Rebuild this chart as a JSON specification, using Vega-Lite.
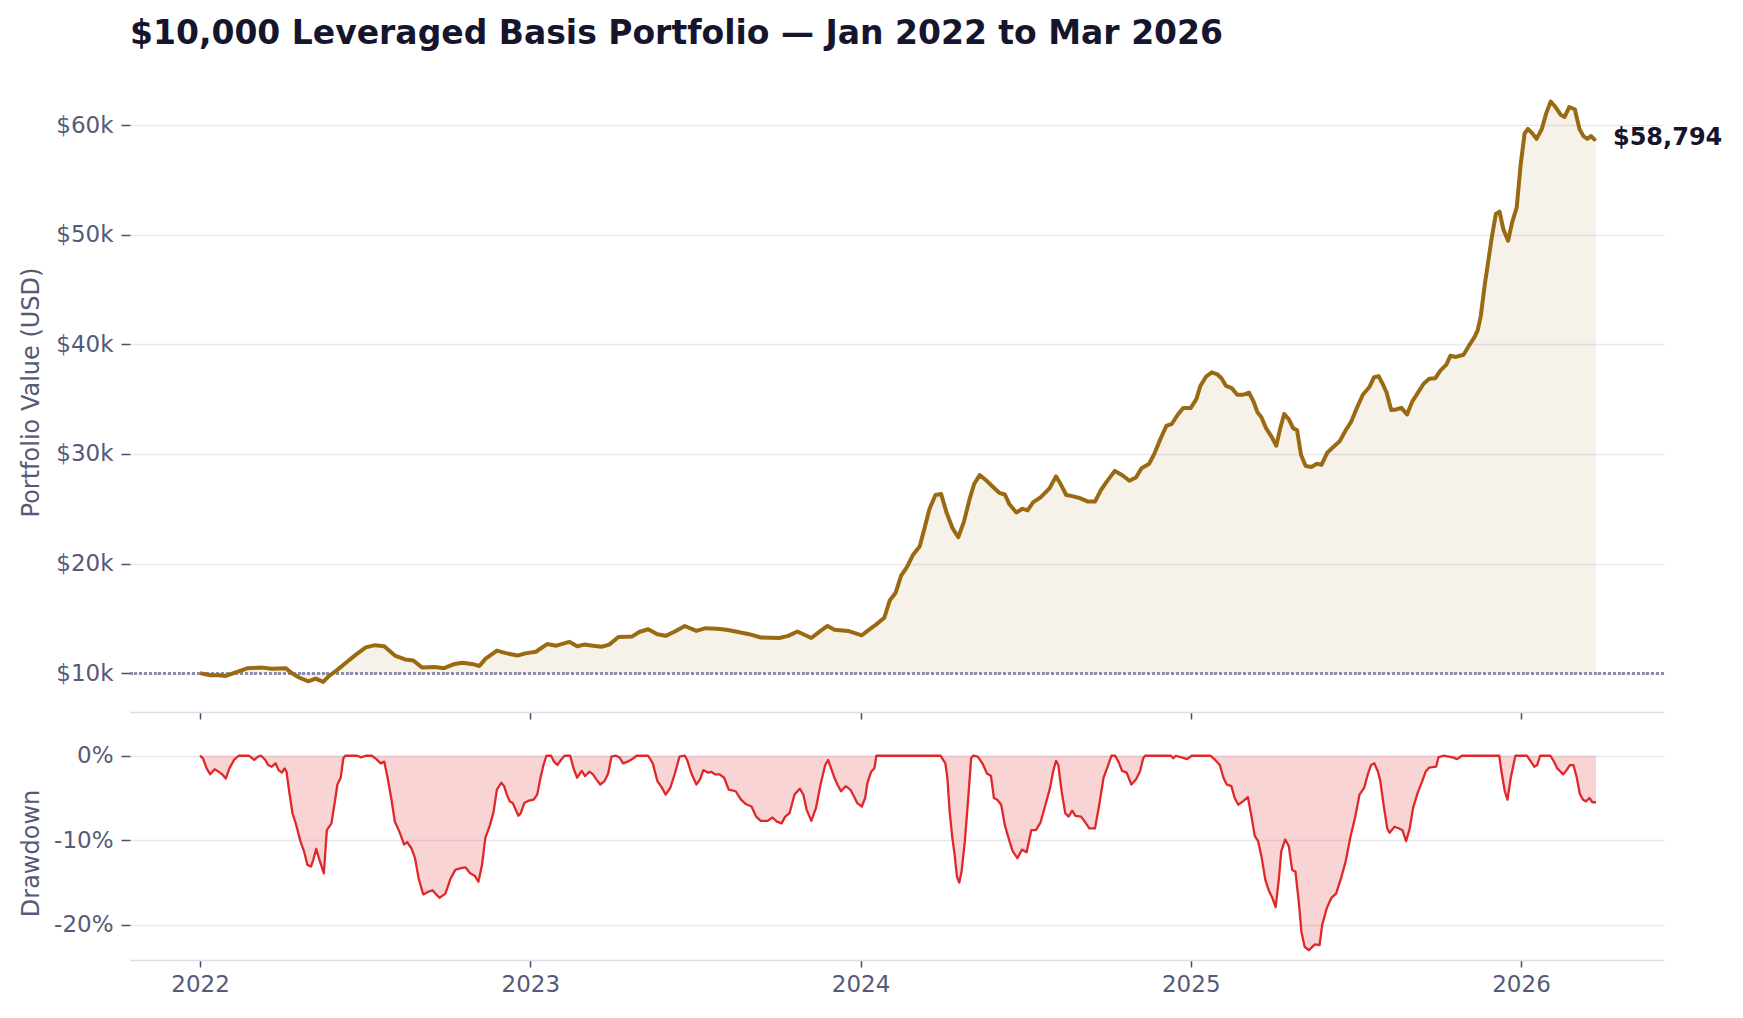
{
  "$schema": "https://vega.github.io/schema/vega-lite/v6.json",
  "description": "$10,000 leveraged basis portfolio value and drawdown",
  "background": "white",
  "padding": {"left": 19, "top": 18, "right": 5, "bottom": 5},
  "title": {
    "text": "$10,000 Leveraged Basis Portfolio — Jan 2022 to Mar 2026",
    "anchor": "start",
    "frame": "group",
    "font": "DejaVu Sans",
    "fontSize": 33,
    "fontWeight": "bold",
    "color": "#15152e",
    "offset": 21
  },
  "datasets": {
    "pv": [
      {"year": 2022.000, "value": 10000}, {"year": 2022.020, "value": 9870}, {"year": 2022.031, "value": 9800},
      {"year": 2022.057, "value": 9810}, {"year": 2022.078, "value": 9740}, {"year": 2022.106, "value": 10050},
      {"year": 2022.145, "value": 10450}, {"year": 2022.190, "value": 10500}, {"year": 2022.217, "value": 10400},
      {"year": 2022.259, "value": 10450}, {"year": 2022.280, "value": 9950}, {"year": 2022.300, "value": 9600},
      {"year": 2022.328, "value": 9250}, {"year": 2022.350, "value": 9500}, {"year": 2022.373, "value": 9200},
      {"year": 2022.391, "value": 9750}, {"year": 2022.412, "value": 10200}, {"year": 2022.440, "value": 10900},
      {"year": 2022.475, "value": 11750}, {"year": 2022.502, "value": 12350}, {"year": 2022.530, "value": 12550},
      {"year": 2022.558, "value": 12450}, {"year": 2022.590, "value": 11600}, {"year": 2022.621, "value": 11250},
      {"year": 2022.646, "value": 11150}, {"year": 2022.673, "value": 10500}, {"year": 2022.711, "value": 10550},
      {"year": 2022.739, "value": 10450}, {"year": 2022.767, "value": 10800}, {"year": 2022.794, "value": 10950},
      {"year": 2022.829, "value": 10800}, {"year": 2022.846, "value": 10650}, {"year": 2022.864, "value": 11300},
      {"year": 2022.899, "value": 12050}, {"year": 2022.929, "value": 11800}, {"year": 2022.961, "value": 11600},
      {"year": 2022.985, "value": 11800}, {"year": 2023.017, "value": 11950}, {"year": 2023.051, "value": 12650},
      {"year": 2023.079, "value": 12500}, {"year": 2023.118, "value": 12850}, {"year": 2023.142, "value": 12450},
      {"year": 2023.163, "value": 12600}, {"year": 2023.190, "value": 12500}, {"year": 2023.216, "value": 12400},
      {"year": 2023.239, "value": 12600}, {"year": 2023.267, "value": 13300}, {"year": 2023.309, "value": 13350},
      {"year": 2023.330, "value": 13750}, {"year": 2023.357, "value": 14000}, {"year": 2023.385, "value": 13550},
      {"year": 2023.410, "value": 13400}, {"year": 2023.438, "value": 13800}, {"year": 2023.468, "value": 14300},
      {"year": 2023.503, "value": 13850}, {"year": 2023.531, "value": 14100}, {"year": 2023.566, "value": 14050},
      {"year": 2023.594, "value": 13950}, {"year": 2023.622, "value": 13800}, {"year": 2023.663, "value": 13550},
      {"year": 2023.698, "value": 13250}, {"year": 2023.754, "value": 13200}, {"year": 2023.781, "value": 13400},
      {"year": 2023.809, "value": 13800}, {"year": 2023.851, "value": 13200}, {"year": 2023.879, "value": 13850},
      {"year": 2023.900, "value": 14300}, {"year": 2023.921, "value": 13950}, {"year": 2023.962, "value": 13850},
      {"year": 2024.004, "value": 13450}, {"year": 2024.025, "value": 13950}, {"year": 2024.046, "value": 14400},
      {"year": 2024.072, "value": 15050}, {"year": 2024.089, "value": 16650}, {"year": 2024.106, "value": 17300},
      {"year": 2024.123, "value": 18900}, {"year": 2024.141, "value": 19700}, {"year": 2024.158, "value": 20750},
      {"year": 2024.179, "value": 21550}, {"year": 2024.192, "value": 23000}, {"year": 2024.209, "value": 25000},
      {"year": 2024.227, "value": 26250}, {"year": 2024.244, "value": 26350}, {"year": 2024.261, "value": 24600},
      {"year": 2024.279, "value": 23200}, {"year": 2024.296, "value": 22400}, {"year": 2024.313, "value": 23800},
      {"year": 2024.330, "value": 25850}, {"year": 2024.344, "value": 27250}, {"year": 2024.361, "value": 28070},
      {"year": 2024.382, "value": 27550}, {"year": 2024.399, "value": 27050}, {"year": 2024.420, "value": 26450},
      {"year": 2024.437, "value": 26300}, {"year": 2024.451, "value": 25400}, {"year": 2024.472, "value": 24650},
      {"year": 2024.490, "value": 25000}, {"year": 2024.506, "value": 24850}, {"year": 2024.523, "value": 25600},
      {"year": 2024.546, "value": 26050}, {"year": 2024.572, "value": 26850}, {"year": 2024.592, "value": 27950},
      {"year": 2024.606, "value": 27250}, {"year": 2024.623, "value": 26250}, {"year": 2024.641, "value": 26150},
      {"year": 2024.666, "value": 25950}, {"year": 2024.689, "value": 25650}, {"year": 2024.710, "value": 25650},
      {"year": 2024.727, "value": 26650}, {"year": 2024.745, "value": 27450}, {"year": 2024.770, "value": 28450},
      {"year": 2024.793, "value": 28050}, {"year": 2024.814, "value": 27550}, {"year": 2024.834, "value": 27850},
      {"year": 2024.851, "value": 28700}, {"year": 2024.874, "value": 29100}, {"year": 2024.891, "value": 30100},
      {"year": 2024.908, "value": 31350}, {"year": 2024.926, "value": 32550}, {"year": 2024.943, "value": 32750},
      {"year": 2024.960, "value": 33550}, {"year": 2024.977, "value": 34200}, {"year": 2025.000, "value": 34200},
      {"year": 2025.017, "value": 35000}, {"year": 2025.029, "value": 36200}, {"year": 2025.046, "value": 37050},
      {"year": 2025.064, "value": 37440}, {"year": 2025.081, "value": 37250}, {"year": 2025.093, "value": 36900},
      {"year": 2025.107, "value": 36200}, {"year": 2025.124, "value": 36000}, {"year": 2025.141, "value": 35400},
      {"year": 2025.159, "value": 35400}, {"year": 2025.176, "value": 35600}, {"year": 2025.190, "value": 34800},
      {"year": 2025.202, "value": 33800}, {"year": 2025.214, "value": 33350}, {"year": 2025.228, "value": 32350},
      {"year": 2025.245, "value": 31550}, {"year": 2025.259, "value": 30750}, {"year": 2025.271, "value": 32350},
      {"year": 2025.283, "value": 33650}, {"year": 2025.297, "value": 33150}, {"year": 2025.310, "value": 32350},
      {"year": 2025.322, "value": 32150}, {"year": 2025.334, "value": 29900}, {"year": 2025.348, "value": 28900},
      {"year": 2025.365, "value": 28800}, {"year": 2025.382, "value": 29100}, {"year": 2025.396, "value": 29000},
      {"year": 2025.413, "value": 30100}, {"year": 2025.434, "value": 30700}, {"year": 2025.451, "value": 31150},
      {"year": 2025.469, "value": 32150}, {"year": 2025.486, "value": 32950}, {"year": 2025.503, "value": 34200},
      {"year": 2025.521, "value": 35400}, {"year": 2025.541, "value": 36100}, {"year": 2025.555, "value": 37000},
      {"year": 2025.569, "value": 37100}, {"year": 2025.581, "value": 36400}, {"year": 2025.593, "value": 35600},
      {"year": 2025.607, "value": 34000}, {"year": 2025.621, "value": 34050}, {"year": 2025.638, "value": 34200},
      {"year": 2025.655, "value": 33600}, {"year": 2025.671, "value": 34800}, {"year": 2025.688, "value": 35600},
      {"year": 2025.705, "value": 36400}, {"year": 2025.722, "value": 36850}, {"year": 2025.740, "value": 36900},
      {"year": 2025.757, "value": 37650}, {"year": 2025.774, "value": 38150}, {"year": 2025.786, "value": 38950},
      {"year": 2025.803, "value": 38850}, {"year": 2025.826, "value": 39050}, {"year": 2025.843, "value": 39900},
      {"year": 2025.860, "value": 40700}, {"year": 2025.869, "value": 41300}, {"year": 2025.878, "value": 42550},
      {"year": 2025.890, "value": 45400}, {"year": 2025.900, "value": 47400}, {"year": 2025.912, "value": 49850},
      {"year": 2025.924, "value": 51900}, {"year": 2025.935, "value": 52100}, {"year": 2025.947, "value": 50450},
      {"year": 2025.961, "value": 49450}, {"year": 2025.973, "value": 51100}, {"year": 2025.987, "value": 52500},
      {"year": 2025.999, "value": 56400}, {"year": 2026.011, "value": 59250}, {"year": 2026.021, "value": 59650},
      {"year": 2026.033, "value": 59300}, {"year": 2026.047, "value": 58750}, {"year": 2026.063, "value": 59650},
      {"year": 2026.076, "value": 61050}, {"year": 2026.090, "value": 62150}, {"year": 2026.102, "value": 61750},
      {"year": 2026.120, "value": 60950}, {"year": 2026.132, "value": 60750}, {"year": 2026.146, "value": 61650},
      {"year": 2026.163, "value": 61450}, {"year": 2026.177, "value": 59650}, {"year": 2026.189, "value": 59000},
      {"year": 2026.201, "value": 58750}, {"year": 2026.212, "value": 59000}, {"year": 2026.222, "value": 58700},
      {"year": 2026.227, "value": 58794}
    ],
    "dd": [
      {"year": 2022.000, "dd": 0}, {"year": 2022.009, "dd": -0.003}, {"year": 2022.020, "dd": -0.015},
      {"year": 2022.031, "dd": -0.022}, {"year": 2022.044, "dd": -0.016}, {"year": 2022.057, "dd": -0.019},
      {"year": 2022.067, "dd": -0.022}, {"year": 2022.078, "dd": -0.027}, {"year": 2022.089, "dd": -0.015},
      {"year": 2022.103, "dd": -0.005}, {"year": 2022.117, "dd": 0}, {"year": 2022.148, "dd": 0},
      {"year": 2022.164, "dd": -0.005}, {"year": 2022.176, "dd": -0.001}, {"year": 2022.185, "dd": 0},
      {"year": 2022.198, "dd": -0.005}, {"year": 2022.206, "dd": -0.011}, {"year": 2022.217, "dd": -0.013},
      {"year": 2022.229, "dd": -0.009}, {"year": 2022.238, "dd": -0.017}, {"year": 2022.248, "dd": -0.020},
      {"year": 2022.256, "dd": -0.015}, {"year": 2022.262, "dd": -0.019}, {"year": 2022.270, "dd": -0.042},
      {"year": 2022.280, "dd": -0.068}, {"year": 2022.290, "dd": -0.080}, {"year": 2022.304, "dd": -0.101},
      {"year": 2022.315, "dd": -0.113}, {"year": 2022.325, "dd": -0.129}, {"year": 2022.336, "dd": -0.131},
      {"year": 2022.343, "dd": -0.123}, {"year": 2022.352, "dd": -0.110}, {"year": 2022.360, "dd": -0.121},
      {"year": 2022.375, "dd": -0.139}, {"year": 2022.384, "dd": -0.088}, {"year": 2022.398, "dd": -0.080},
      {"year": 2022.410, "dd": -0.050}, {"year": 2022.416, "dd": -0.034}, {"year": 2022.426, "dd": -0.026},
      {"year": 2022.434, "dd": -0.003}, {"year": 2022.440, "dd": 0}, {"year": 2022.475, "dd": 0},
      {"year": 2022.488, "dd": -0.002}, {"year": 2022.502, "dd": 0}, {"year": 2022.520, "dd": 0},
      {"year": 2022.534, "dd": -0.004}, {"year": 2022.547, "dd": -0.009}, {"year": 2022.558, "dd": -0.007},
      {"year": 2022.568, "dd": -0.026}, {"year": 2022.579, "dd": -0.050}, {"year": 2022.590, "dd": -0.078},
      {"year": 2022.604, "dd": -0.090}, {"year": 2022.618, "dd": -0.105}, {"year": 2022.627, "dd": -0.102},
      {"year": 2022.641, "dd": -0.110}, {"year": 2022.651, "dd": -0.121}, {"year": 2022.662, "dd": -0.145},
      {"year": 2022.676, "dd": -0.164}, {"year": 2022.690, "dd": -0.161}, {"year": 2022.704, "dd": -0.159},
      {"year": 2022.713, "dd": -0.163}, {"year": 2022.725, "dd": -0.168}, {"year": 2022.743, "dd": -0.163},
      {"year": 2022.759, "dd": -0.145}, {"year": 2022.773, "dd": -0.135}, {"year": 2022.790, "dd": -0.133},
      {"year": 2022.804, "dd": -0.132}, {"year": 2022.818, "dd": -0.139}, {"year": 2022.832, "dd": -0.142},
      {"year": 2022.843, "dd": -0.149}, {"year": 2022.854, "dd": -0.129}, {"year": 2022.864, "dd": -0.097},
      {"year": 2022.878, "dd": -0.082}, {"year": 2022.889, "dd": -0.066}, {"year": 2022.899, "dd": -0.040},
      {"year": 2022.912, "dd": -0.032}, {"year": 2022.921, "dd": -0.036}, {"year": 2022.929, "dd": -0.046},
      {"year": 2022.938, "dd": -0.054}, {"year": 2022.947, "dd": -0.056}, {"year": 2022.954, "dd": -0.062},
      {"year": 2022.964, "dd": -0.071}, {"year": 2022.971, "dd": -0.068}, {"year": 2022.982, "dd": -0.056},
      {"year": 2022.996, "dd": -0.053}, {"year": 2023.010, "dd": -0.052}, {"year": 2023.021, "dd": -0.046},
      {"year": 2023.031, "dd": -0.026}, {"year": 2023.040, "dd": -0.011}, {"year": 2023.049, "dd": 0},
      {"year": 2023.063, "dd": 0}, {"year": 2023.072, "dd": -0.007}, {"year": 2023.082, "dd": -0.011},
      {"year": 2023.093, "dd": -0.005}, {"year": 2023.104, "dd": 0}, {"year": 2023.121, "dd": 0},
      {"year": 2023.131, "dd": -0.015}, {"year": 2023.142, "dd": -0.026}, {"year": 2023.156, "dd": -0.018},
      {"year": 2023.166, "dd": -0.024}, {"year": 2023.179, "dd": -0.019}, {"year": 2023.190, "dd": -0.022},
      {"year": 2023.200, "dd": -0.028}, {"year": 2023.212, "dd": -0.034}, {"year": 2023.225, "dd": -0.030},
      {"year": 2023.236, "dd": -0.021}, {"year": 2023.246, "dd": -0.001}, {"year": 2023.260, "dd": 0},
      {"year": 2023.270, "dd": -0.002}, {"year": 2023.281, "dd": -0.009}, {"year": 2023.295, "dd": -0.007},
      {"year": 2023.309, "dd": -0.004}, {"year": 2023.322, "dd": 0}, {"year": 2023.357, "dd": 0},
      {"year": 2023.371, "dd": -0.009}, {"year": 2023.385, "dd": -0.030}, {"year": 2023.399, "dd": -0.038},
      {"year": 2023.410, "dd": -0.046}, {"year": 2023.424, "dd": -0.038}, {"year": 2023.438, "dd": -0.021},
      {"year": 2023.452, "dd": -0.001}, {"year": 2023.468, "dd": 0}, {"year": 2023.475, "dd": -0.005},
      {"year": 2023.489, "dd": -0.022}, {"year": 2023.503, "dd": -0.034}, {"year": 2023.514, "dd": -0.028},
      {"year": 2023.524, "dd": -0.017}, {"year": 2023.538, "dd": -0.020}, {"year": 2023.549, "dd": -0.019},
      {"year": 2023.559, "dd": -0.022}, {"year": 2023.573, "dd": -0.022}, {"year": 2023.587, "dd": -0.026},
      {"year": 2023.601, "dd": -0.040}, {"year": 2023.622, "dd": -0.042}, {"year": 2023.638, "dd": -0.052},
      {"year": 2023.652, "dd": -0.057}, {"year": 2023.670, "dd": -0.060}, {"year": 2023.684, "dd": -0.072},
      {"year": 2023.698, "dd": -0.077}, {"year": 2023.719, "dd": -0.077}, {"year": 2023.733, "dd": -0.073},
      {"year": 2023.747, "dd": -0.078}, {"year": 2023.761, "dd": -0.080}, {"year": 2023.772, "dd": -0.072},
      {"year": 2023.785, "dd": -0.068}, {"year": 2023.800, "dd": -0.046}, {"year": 2023.816, "dd": -0.039},
      {"year": 2023.827, "dd": -0.046}, {"year": 2023.837, "dd": -0.064}, {"year": 2023.851, "dd": -0.077},
      {"year": 2023.865, "dd": -0.062}, {"year": 2023.879, "dd": -0.034}, {"year": 2023.893, "dd": -0.011},
      {"year": 2023.902, "dd": -0.005}, {"year": 2023.911, "dd": -0.015}, {"year": 2023.921, "dd": -0.026},
      {"year": 2023.930, "dd": -0.034}, {"year": 2023.941, "dd": -0.042}, {"year": 2023.955, "dd": -0.036},
      {"year": 2023.969, "dd": -0.040}, {"year": 2023.980, "dd": -0.048}, {"year": 2023.990, "dd": -0.056},
      {"year": 2024.004, "dd": -0.060}, {"year": 2024.014, "dd": -0.050}, {"year": 2024.021, "dd": -0.032},
      {"year": 2024.032, "dd": -0.019}, {"year": 2024.042, "dd": -0.015}, {"year": 2024.048, "dd": 0},
      {"year": 2024.242, "dd": 0}, {"year": 2024.257, "dd": -0.009}, {"year": 2024.263, "dd": -0.026},
      {"year": 2024.270, "dd": -0.066}, {"year": 2024.278, "dd": -0.097}, {"year": 2024.285, "dd": -0.117},
      {"year": 2024.292, "dd": -0.143}, {"year": 2024.299, "dd": -0.150}, {"year": 2024.306, "dd": -0.137},
      {"year": 2024.316, "dd": -0.101}, {"year": 2024.327, "dd": -0.046}, {"year": 2024.335, "dd": -0.003},
      {"year": 2024.341, "dd": 0}, {"year": 2024.355, "dd": -0.001}, {"year": 2024.369, "dd": -0.009},
      {"year": 2024.383, "dd": -0.021}, {"year": 2024.395, "dd": -0.024}, {"year": 2024.404, "dd": -0.050},
      {"year": 2024.414, "dd": -0.052}, {"year": 2024.426, "dd": -0.058}, {"year": 2024.437, "dd": -0.082},
      {"year": 2024.451, "dd": -0.101}, {"year": 2024.461, "dd": -0.113}, {"year": 2024.475, "dd": -0.121},
      {"year": 2024.489, "dd": -0.111}, {"year": 2024.503, "dd": -0.114}, {"year": 2024.517, "dd": -0.088},
      {"year": 2024.531, "dd": -0.088}, {"year": 2024.545, "dd": -0.079}, {"year": 2024.560, "dd": -0.058},
      {"year": 2024.574, "dd": -0.038}, {"year": 2024.583, "dd": -0.019}, {"year": 2024.592, "dd": -0.006},
      {"year": 2024.599, "dd": -0.011}, {"year": 2024.609, "dd": -0.042}, {"year": 2024.620, "dd": -0.068},
      {"year": 2024.630, "dd": -0.072}, {"year": 2024.641, "dd": -0.065}, {"year": 2024.651, "dd": -0.071},
      {"year": 2024.668, "dd": -0.072}, {"year": 2024.679, "dd": -0.078}, {"year": 2024.693, "dd": -0.086},
      {"year": 2024.710, "dd": -0.086}, {"year": 2024.722, "dd": -0.060}, {"year": 2024.736, "dd": -0.026},
      {"year": 2024.750, "dd": -0.011}, {"year": 2024.760, "dd": 0}, {"year": 2024.771, "dd": 0},
      {"year": 2024.781, "dd": -0.007}, {"year": 2024.792, "dd": -0.018}, {"year": 2024.806, "dd": -0.020},
      {"year": 2024.820, "dd": -0.034}, {"year": 2024.834, "dd": -0.028}, {"year": 2024.846, "dd": -0.019},
      {"year": 2024.856, "dd": -0.003}, {"year": 2024.862, "dd": 0}, {"year": 2024.940, "dd": 0},
      {"year": 2024.947, "dd": -0.003}, {"year": 2024.955, "dd": 0}, {"year": 2024.989, "dd": -0.004},
      {"year": 2025.003, "dd": 0}, {"year": 2025.060, "dd": 0}, {"year": 2025.074, "dd": -0.005},
      {"year": 2025.088, "dd": -0.011}, {"year": 2025.099, "dd": -0.026}, {"year": 2025.109, "dd": -0.034},
      {"year": 2025.123, "dd": -0.036}, {"year": 2025.133, "dd": -0.050}, {"year": 2025.144, "dd": -0.058},
      {"year": 2025.158, "dd": -0.054}, {"year": 2025.173, "dd": -0.049}, {"year": 2025.184, "dd": -0.072},
      {"year": 2025.194, "dd": -0.095}, {"year": 2025.204, "dd": -0.101}, {"year": 2025.215, "dd": -0.121},
      {"year": 2025.226, "dd": -0.147}, {"year": 2025.236, "dd": -0.159}, {"year": 2025.247, "dd": -0.168},
      {"year": 2025.257, "dd": -0.179}, {"year": 2025.267, "dd": -0.145}, {"year": 2025.274, "dd": -0.113},
      {"year": 2025.286, "dd": -0.099}, {"year": 2025.297, "dd": -0.107}, {"year": 2025.307, "dd": -0.135},
      {"year": 2025.317, "dd": -0.137}, {"year": 2025.328, "dd": -0.176}, {"year": 2025.335, "dd": -0.208},
      {"year": 2025.345, "dd": -0.226}, {"year": 2025.358, "dd": -0.230}, {"year": 2025.368, "dd": -0.226},
      {"year": 2025.376, "dd": -0.223}, {"year": 2025.390, "dd": -0.224}, {"year": 2025.398, "dd": -0.200},
      {"year": 2025.412, "dd": -0.180}, {"year": 2025.426, "dd": -0.168}, {"year": 2025.440, "dd": -0.163},
      {"year": 2025.455, "dd": -0.145}, {"year": 2025.469, "dd": -0.125}, {"year": 2025.483, "dd": -0.097},
      {"year": 2025.497, "dd": -0.074}, {"year": 2025.511, "dd": -0.046}, {"year": 2025.525, "dd": -0.038},
      {"year": 2025.537, "dd": -0.021}, {"year": 2025.546, "dd": -0.011}, {"year": 2025.556, "dd": -0.009},
      {"year": 2025.567, "dd": -0.019}, {"year": 2025.574, "dd": -0.030}, {"year": 2025.584, "dd": -0.058},
      {"year": 2025.595, "dd": -0.086}, {"year": 2025.602, "dd": -0.091}, {"year": 2025.617, "dd": -0.084},
      {"year": 2025.631, "dd": -0.086}, {"year": 2025.641, "dd": -0.088}, {"year": 2025.652, "dd": -0.101},
      {"year": 2025.663, "dd": -0.086}, {"year": 2025.673, "dd": -0.062}, {"year": 2025.687, "dd": -0.044},
      {"year": 2025.701, "dd": -0.030}, {"year": 2025.711, "dd": -0.019}, {"year": 2025.722, "dd": -0.014},
      {"year": 2025.743, "dd": -0.013}, {"year": 2025.750, "dd": -0.002}, {"year": 2025.765, "dd": 0},
      {"year": 2025.793, "dd": -0.002}, {"year": 2025.807, "dd": -0.004}, {"year": 2025.821, "dd": 0},
      {"year": 2025.934, "dd": 0}, {"year": 2025.941, "dd": -0.019}, {"year": 2025.951, "dd": -0.042},
      {"year": 2025.959, "dd": -0.052}, {"year": 2025.969, "dd": -0.026}, {"year": 2025.983, "dd": 0},
      {"year": 2026.018, "dd": 0}, {"year": 2026.030, "dd": -0.007}, {"year": 2026.040, "dd": -0.013},
      {"year": 2026.049, "dd": -0.011}, {"year": 2026.058, "dd": 0}, {"year": 2026.089, "dd": 0},
      {"year": 2026.100, "dd": -0.007}, {"year": 2026.110, "dd": -0.015}, {"year": 2026.120, "dd": -0.019},
      {"year": 2026.128, "dd": -0.022}, {"year": 2026.138, "dd": -0.017}, {"year": 2026.148, "dd": -0.011},
      {"year": 2026.159, "dd": -0.011}, {"year": 2026.169, "dd": -0.026}, {"year": 2026.178, "dd": -0.045},
      {"year": 2026.188, "dd": -0.052}, {"year": 2026.197, "dd": -0.054}, {"year": 2026.207, "dd": -0.050},
      {"year": 2026.216, "dd": -0.055}, {"year": 2026.227, "dd": -0.055}
    ]
  },
  "spacing": 34,
  "bounds": "flush",
  "vconcat": [
    {
      "width": 1534,
      "height": 640,
      "data": {"name": "pv"},
      "encoding": {
        "x": {
          "field": "year", "type": "quantitative",
          "scale": {"domain": [2021.788, 2026.433], "nice": false, "zero": false},
          "axis": {
            "title": null, "labels": false, "values": [2022, 2023, 2024, 2025, 2026],
            "grid": false, "domainColor": "#dcdce6", "domainWidth": 1.5,
            "tickSize": 7, "tickColor": "#4a4e6a", "tickWidth": 1.5
          }
        },
        "y": {
          "field": "value", "type": "quantitative",
          "scale": {"domain": [6450, 64850], "nice": false, "zero": false},
          "axis": {
            "title": "Portfolio Value (USD)",
            "values": [10000, 20000, 30000, 40000, 50000, 60000],
            "labelExpr": "'$' + format(datum.value / 1000, 'd') + 'k'",
            "domain": false, "grid": true, "gridColor": "#e8e8ef", "gridWidth": 1.5,
            "tickSize": 9, "tickColor": "#4a4e6a", "tickWidth": 1.5,
            "labelPadding": 8, "titleX": -99, "titleY": 320,
            "titleBaseline": "middle", "titleAlign": "center", "titleAngle": 270
          }
        }
      },
      "layer": [
        {
          "mark": {"type": "area", "color": "#a07010", "opacity": 0.09},
          "encoding": {"y2": {"datum": 10000}}
        },
        {
          "mark": {"type": "rule", "color": "#8a8eaa", "strokeWidth": 2.2, "strokeDash": [2.2, 2.6]},
          "encoding": {
            "x": {"datum": 2021.788},
            "x2": {"datum": 2026.433},
            "y": {"datum": 10000}
          }
        },
        {
          "mark": {"type": "line", "color": "#9a6a12", "strokeWidth": 4, "strokeJoin": "round"}
        },
        {
          "data": {"values": [{"year": 2026.227, "value": 58794, "label": "$58,794"}]},
          "mark": {
            "type": "text", "align": "left", "baseline": "middle", "dx": 17,
            "font": "DejaVu Sans", "fontSize": 24, "fontWeight": "bold", "color": "#15152e"
          },
          "encoding": {"text": {"field": "label"}}
        }
      ]
    },
    {
      "width": 1534,
      "height": 214,
      "data": {"name": "dd"},
      "encoding": {
        "x": {
          "field": "year", "type": "quantitative",
          "scale": {"domain": [2021.788, 2026.433], "nice": false, "zero": false},
          "axis": {
            "title": null, "format": "d", "values": [2022, 2023, 2024, 2025, 2026],
            "grid": false, "domainColor": "#dcdce6", "domainWidth": 1.5,
            "tickSize": 7, "tickColor": "#4a4e6a", "tickWidth": 1.5, "labelPadding": 6
          }
        },
        "y": {
          "field": "dd", "type": "quantitative",
          "scale": {"domain": [-0.2415, 0.0115], "nice": false, "zero": false},
          "axis": {
            "title": "Drawdown",
            "values": [0, -0.1, -0.2],
            "format": ".0%",
            "labelExpr": "replace(datum.label, '\u2212', '-')",
            "domain": false, "grid": true, "gridColor": "#e8e8ef", "gridWidth": 1.5,
            "tickSize": 9, "tickColor": "#4a4e6a", "tickWidth": 1.5,
            "labelPadding": 8, "titleX": -99, "titleY": 107,
            "titleBaseline": "middle", "titleAlign": "center", "titleAngle": 270
          }
        }
      },
      "layer": [
        {
          "mark": {"type": "area", "color": "#e0282a", "opacity": 0.2},
          "encoding": {"y2": {"datum": 0}}
        },
        {
          "mark": {"type": "line", "color": "#e0282a", "strokeWidth": 2.3, "strokeJoin": "round"}
        }
      ]
    }
  ],
  "config": {
    "font": "DejaVu Sans",
    "view": {"stroke": null},
    "axis": {
      "labelFont": "DejaVu Sans",
      "labelFontSize": 23,
      "labelColor": "#555a78",
      "titleFont": "DejaVu Sans",
      "titleFontSize": 24,
      "titleFontWeight": "normal",
      "titleColor": "#555a78"
    }
  }
}
